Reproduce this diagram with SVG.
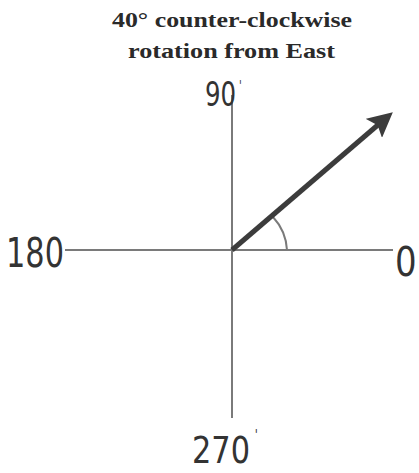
<svg xmlns="http://www.w3.org/2000/svg" width="419" height="473" viewBox="0 0 419 473">
<defs>
<style>
.title{font-family:"Liberation Serif",serif;font-weight:bold;font-size:21px;fill:#2a2a2a}
.hand{font-family:"DejaVu Sans","Liberation Sans",sans-serif;fill:#333;font-weight:normal}
.tick{font-size:14px}
.axis{stroke:#7a7a7a;stroke-width:2;fill:none}
</style>
<marker id="ah" markerWidth="5" markerHeight="5" refX="3.2" refY="2.5" orient="auto" markerUnits="strokeWidth">
<path d="M0,0 L5,2.5 L0,5 L1,2.5 Z" fill="#3c3c3c"/>
</marker>
</defs>
<rect width="419" height="473" fill="#fff"/>
<g id="title">
<text class="title" x="112" y="27" textLength="240" lengthAdjust="spacingAndGlyphs">40° counter-clockwise</text>
<text class="title" x="128" y="58" textLength="207" lengthAdjust="spacingAndGlyphs">rotation from East</text>
</g>
<g id="connectors">
<line class="axis" x1="232" y1="95" x2="232" y2="418"/>
<line class="axis" x1="65" y1="250" x2="393" y2="250"/>
<path class="axis" d="M273,217 A53,53 0 0 1 287,250" stroke-width="1.6"/>
<line x1="232" y1="250" x2="386" y2="118" stroke="#3c3c3c" stroke-width="5" marker-end="url(#ah)"/>
</g>
<g id="label-90">
<text class="hand" font-size="34" transform="translate(205,106) scale(0.72,1)">90<tspan class="tick" dx="4" dy="-16">'</tspan></text>
</g>
<g id="label-180">
<text class="hand" font-size="40" transform="translate(6,267) scale(0.76,1)">180</text>
</g>
<g id="label-0">
<text class="hand" font-size="40" transform="translate(395,276) scale(0.85,1)">0</text>
</g>
<g id="label-270">
<text class="hand" font-size="38" transform="translate(192,463) scale(0.8,1)">270<tspan class="tick" dx="6" dy="-24">'</tspan></text>
</g>
</svg>
